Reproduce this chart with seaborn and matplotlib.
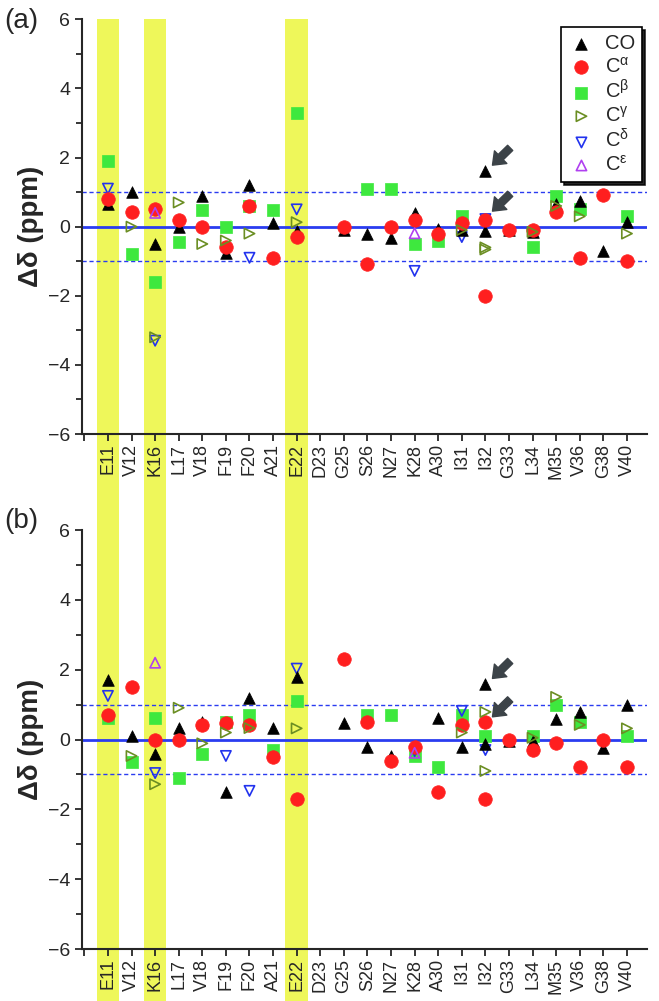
import matplotlib
matplotlib.use("Agg")
import matplotlib.pyplot as plt
import matplotlib.transforms as mtransforms
from matplotlib.patches import Rectangle
from matplotlib.ticker import MultipleLocator
import seaborn as sns
import pandas as pd

residues = ["E11", "V12", "K16", "L17", "V18", "F19", "F20", "A21", "E22", "D23",
            "G25", "S26", "N27", "K28", "A30", "I31", "I32", "G33", "L34", "M35",
            "V36", "G38", "V40"]
highlight = ["E11", "K16", "E22"]

# panel (a)
a_CO = [("E11", 0.66), ("V12", 1.0), ("K16", -0.5), ("L17", 0.0), ("V18", 0.9),
        ("F19", -0.75), ("F20", 1.2), ("A21", 0.1), ("E22", -0.12), ("G25", -0.1),
        ("S26", -0.2), ("N27", -0.33), ("K28", 0.4), ("A30", -0.08), ("I31", -0.1),
        ("I32", 1.6), ("I32", -0.12), ("G33", -0.1), ("L34", -0.15), ("M35", 0.66),
        ("V36", 0.73), ("G38", -0.71), ("V40", 0.13)]
a_CA = [("E11", 0.8), ("V12", 0.42), ("K16", 0.5), ("L17", 0.2), ("V18", 0.0),
        ("F19", -0.6), ("F20", 0.6), ("A21", -0.9), ("E22", -0.3), ("G25", 0.0),
        ("S26", -1.08), ("N27", 0.0), ("K28", 0.2), ("A30", -0.2), ("I31", 0.1),
        ("I32", 0.2), ("I32", -2.0), ("G33", -0.1), ("L34", -0.1), ("M35", 0.42),
        ("V36", -0.9), ("G38", 0.92), ("V40", -1.0)]
a_CB = [("E11", 1.9), ("V12", -0.8), ("K16", -1.6), ("L17", -0.43), ("V18", 0.48),
        ("F19", -0.02), ("F20", 0.6), ("A21", 0.48), ("E22", 3.3), ("S26", 1.08),
        ("N27", 1.08), ("K28", -0.5), ("A30", -0.42), ("I31", 0.3), ("L34", -0.6),
        ("M35", 0.9), ("V36", 0.5), ("V40", 0.32)]
a_CG = [("V12", 0.0), ("K16", -3.2), ("L17", 0.7), ("V18", -0.5), ("F19", -0.4),
        ("F20", -0.2), ("E22", 0.13), ("I31", -0.1), ("I32", -0.6), ("I32", -0.66),
        ("L34", -0.15), ("M35", 0.6), ("V36", 0.3), ("V40", -0.2)]
a_CD = [("E11", 1.1), ("K16", -3.3), ("F19", -0.75), ("F20", -0.9), ("E22", 0.5),
        ("K28", -1.28), ("I31", -0.3), ("I32", 0.22)]
a_CE = [("K16", 0.4), ("K28", -0.19)]

# panel (b)
b_CO = [("E11", 1.7), ("V12", 0.1), ("K16", -0.4), ("L17", 0.32), ("V18", 0.5),
        ("F19", -1.5), ("F20", 1.2), ("A21", 0.32), ("E22", 1.79), ("G25", 0.48),
        ("S26", -0.2), ("N27", -0.47), ("A30", 0.61), ("I31", -0.2), ("I32", 1.6),
        ("I32", -0.13), ("G33", -0.05), ("L34", -0.04), ("M35", 0.6), ("V36", 0.79),
        ("G38", -0.24), ("V40", 0.98)]
b_CA = [("E11", 0.71), ("V12", 1.5), ("K16", 0.0), ("L17", 0.0), ("V18", 0.41),
        ("F19", 0.48), ("F20", 0.41), ("A21", -0.49), ("E22", -1.69), ("G25", 2.31),
        ("S26", 0.49), ("N27", -0.62), ("K28", -0.2), ("A30", -1.5), ("I31", 0.41),
        ("I32", 0.49), ("I32", -1.69), ("G33", 0.0), ("L34", -0.3), ("M35", -0.1),
        ("V36", -0.79), ("G38", 0.0), ("V40", -0.79)]
b_CB = [("E11", 0.63), ("V12", -0.63), ("K16", 0.61), ("L17", -1.11), ("V18", -0.4),
        ("F19", 0.5), ("F20", 0.69), ("A21", -0.3), ("E22", 1.1), ("S26", 0.69),
        ("N27", 0.69), ("K28", -0.48), ("A30", -0.8), ("I31", 0.69), ("I32", 0.1),
        ("L34", 0.1), ("M35", 1.0), ("V36", 0.5), ("V40", 0.1)]
b_CG = [("V12", -0.47), ("K16", -1.28), ("L17", 0.91), ("V18", -0.11), ("F19", 0.2),
        ("F20", 0.33), ("E22", 0.32), ("I31", 0.2), ("I32", 0.79), ("I32", -0.9),
        ("L34", 0.05), ("M35", 1.22), ("V36", 0.42), ("V40", 0.32)]
b_CD = [("E11", 1.25), ("K16", -0.96), ("F19", -0.47), ("F20", -1.47), ("E22", 2.03),
        ("K28", -0.33), ("I31", 0.82), ("I32", -0.3)]
b_CE = [("K16", 2.2), ("K28", -0.38)]

labels = ["CO", r"C$^{\mathrm{\alpha}}$", r"C$^{\mathrm{\beta}}$",
          r"C$^{\mathrm{\gamma}}$", r"C$^{\mathrm{\delta}}$", r"C$^{\mathrm{\epsilon}}$"]
# (marker, colour, filled, size)
styles = [("^", "black", True, 70), ("o", "#ff1f1f", True, 95), ("s", "#3ee83e", True, 75),
          (">", "#6b8e23", False, 55), ("v", "#2233ee", False, 55), ("^", "#b040f0", False, 55)]
draw_order = [2, 4, 0, 1, 3, 5]

sns.set_style("ticks")
plt.rcParams["font.family"] = ["Liberation Sans", "DejaVu Sans"]
plt.rcParams["mathtext.fontset"] = "custom"
plt.rcParams["mathtext.rm"] = "Liberation Sans"
plt.rcParams["mathtext.it"] = "Liberation Sans:italic"

fig = plt.figure(figsize=(6.59, 10.01), dpi=100)
ax_a = fig.add_axes([0.1244, 0.5664, 0.8574, 0.4143])
ax_b = fig.add_axes([0.1244, 0.0519, 0.8574, 0.4186])

pos = {r: i for i, r in enumerate(residues)}


def draw_panel(ax, series):
    ax.set_facecolor("none")
    for k in draw_order:
        df = pd.DataFrame(series[k], columns=["residue", "shift"])
        df["x"] = df["residue"].map(pos)
        marker, col, filled, size = styles[k]
        if filled:
            sns.scatterplot(data=df, x="x", y="shift", ax=ax, marker=marker, color=col,
                            edgecolor=col, s=size, linewidth=0.5, label=labels[k], zorder=3)
        else:
            sns.scatterplot(data=df, x="x", y="shift", ax=ax, marker=marker, color=col,
                            facecolors="none", edgecolor=col, s=size, linewidth=1.2,
                            label=labels[k], zorder=3)
    ax.axhline(0, color="#2a3cf0", lw=2, zorder=2)
    for yv in (1, -1):
        ax.axhline(yv, color="#2a3cf0", lw=1, ls=(0, (3, 2)), zorder=2)
    ax.set_xlim(-1.1, 22.85)
    ax.set_ylim(-6, 6)
    ax.set_xticks(range(-1, 23))
    ax.set_xticklabels([""] + residues, rotation=90, fontsize=13)
    ax.yaxis.set_major_locator(MultipleLocator(2))
    ax.yaxis.set_minor_locator(MultipleLocator(1))
    ax.tick_params(axis="y", labelsize=14, width=1.3, length=5)
    ax.tick_params(axis="y", which="minor", width=1.3, length=4)
    ax.tick_params(axis="x", width=1.3, length=5, pad=2)
    for sp in ["top", "right"]:
        ax.spines[sp].set_visible(False)
    for sp in ["left", "bottom"]:
        ax.spines[sp].set_linewidth(1.5)
    ax.set_xlabel("")
    ax.set_ylabel("Δδ (ppm)", fontsize=20, fontweight="bold", labelpad=3)


draw_panel(ax_a, [a_CO, a_CA, a_CB, a_CG, a_CD, a_CE])
draw_panel(ax_b, [b_CO, b_CA, b_CB, b_CG, b_CD, b_CE])

fig.text(0.006, 0.979, "(a)", fontsize=20, va="center", ha="left")
fig.text(0.006, 0.480, "(b)", fontsize=20, va="center", ha="left")

# yellow bands running down through both panels
trans = mtransforms.blended_transform_factory(ax_a.transData, fig.transFigure)
top = 0.5664 + 0.4143
for r in highlight:
    ax_a.add_patch(Rectangle((pos[r] - 0.48, 0), 0.96, top, transform=trans,
                             facecolor="#eef75a", edgecolor="none", clip_on=False, zorder=0))

# arrows pointing at I32
arrow_kw = dict(arrowstyle="simple,head_length=0.55,head_width=0.85,tail_width=0.35",
                color="#3c4348", mutation_scale=15, shrinkA=0, shrinkB=0)
for ax, tips in [(ax_a, [1.78, 0.45]), (ax_b, [1.75, 0.65])]:
    for yt in tips:
        ax.annotate("", xy=(pos["I32"] + 0.3, yt), xytext=(pos["I32"] + 1.05, yt + 0.5),
                    arrowprops=arrow_kw, zorder=4)

ax_b.get_legend().remove()
h, l = ax_a.get_legend_handles_labels()
order = [l.index(t) for t in labels]
leg = ax_a.legend([h[i] for i in order], [l[i] for i in order], loc="upper right",
                  bbox_to_anchor=(0.991, 0.981), borderaxespad=0, frameon=True,
                  fancybox=False, shadow={"color": "black", "alpha": 0.85},
                  edgecolor="black", framealpha=1, fontsize=14.5, handletextpad=0.5,
                  labelspacing=0.15, borderpad=0.35, handlelength=1.3)
leg.get_frame().set_linewidth(1.2)

fig.savefig("out.png", dpi=100)
plt.close()
